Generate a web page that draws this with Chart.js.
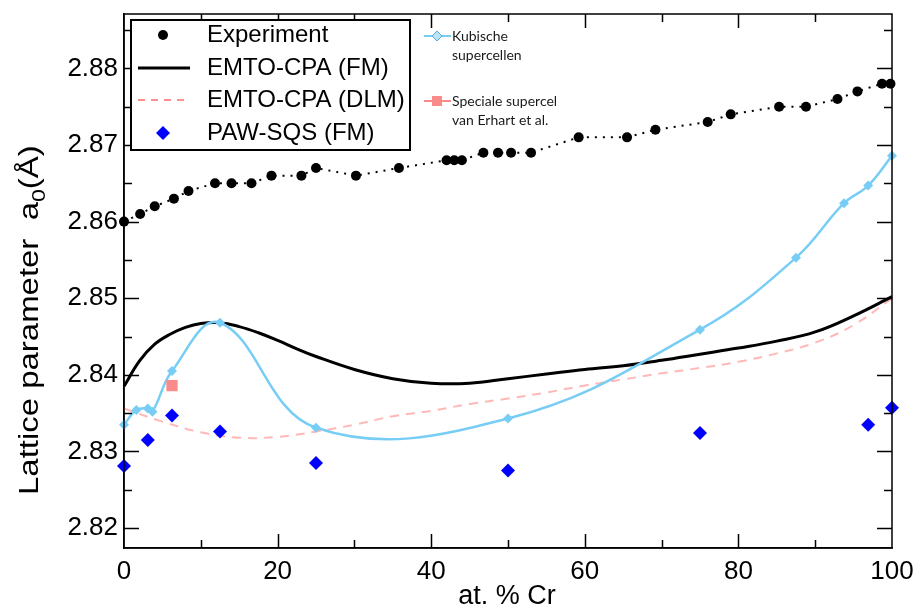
<!DOCTYPE html>
<html>
<head>
<meta charset="utf-8">
<script src="https://cdn.jsdelivr.net/npm/chart.js@4.4.1/dist/chart.umd.min.js"></script>
<style>
  html, body { margin: 0; padding: 0; background: #fff; }
</style>
</head>
<body>
<canvas id="myChart" width="914" height="611"></canvas>
<script>
// experiment (black dots)
var expX = [0, 2.1, 4.0, 6.5, 8.4, 11.85, 14, 16.6, 19.2, 23.1, 25, 30.2, 35.8, 42, 43, 44, 46.8, 48.7, 50.4, 53, 59.2, 65.5, 69.2, 76, 79, 85.3, 88.8, 92.9, 95.5, 98.7, 99.8]
var expY = [2.860, 2.861, 2.862, 2.863, 2.864, 2.865, 2.865, 2.865, 2.866, 2.866, 2.867, 2.866, 2.867, 2.868, 2.868, 2.868, 2.869, 2.869, 2.869, 2.869, 2.871, 2.871, 2.872, 2.873, 2.874, 2.875, 2.875, 2.876, 2.877, 2.878, 2.878]

// EMTO-CPA (FM) curve
var fmX = [0, 2, 4, 6, 8, 10, 12.5, 15, 17.5, 20, 22.5, 25, 30, 35, 40, 45, 50, 55, 60, 65, 70, 75, 80, 85, 90, 95, 100]
var fmY = [2.8385, 2.8418, 2.8440, 2.8453, 2.8462, 2.8467, 2.8468, 2.8463, 2.8455, 2.8445, 2.8434, 2.8424, 2.8407, 2.8395, 2.8389, 2.8389, 2.8395, 2.8401, 2.8407, 2.8412, 2.8419, 2.8427, 2.8435, 2.8444, 2.8456, 2.8477, 2.8502]

// EMTO-CPA (DLM) curve
var dlmX = [0, 5, 10, 15, 20, 25, 30, 35, 40, 45, 50, 55, 60, 65, 70, 75, 80, 85, 90, 95, 100]
var dlmY = [2.8356, 2.8339, 2.8325, 2.8318, 2.8319, 2.8326, 2.8335, 2.8346, 2.8353, 2.8362, 2.8369, 2.8377, 2.8386, 2.8394, 2.8402, 2.8409, 2.8417, 2.8428, 2.8442, 2.8465, 2.8500]

// PAW-SQS (FM)
var pawX = [0, 3.1, 6.25, 12.5, 25, 50, 75, 96.9, 100]
var pawY = [2.8281, 2.8315, 2.8347, 2.8326, 2.8285, 2.8275, 2.8324, 2.8335, 2.8357]

// Kubische supercellen
var kubX = [0, 1.6, 3.1, 3.7, 6.25, 12.5, 25, 50, 75, 87.5, 93.75, 96.9, 100]
var kubY = [2.8335, 2.8354, 2.8356, 2.8352, 2.8405, 2.8468, 2.8331, 2.8343, 2.8459, 2.8553, 2.8624, 2.8647, 2.8686]

// Speciale supercel van Erhart et al.
var erhX = [6.25]
var erhY = [2.8386]

var xLabels = [0, 20, 40, 60, 80, 100]
var yLabels = [2.82, 2.83, 2.84, 2.85, 2.86, 2.87, 2.88]
var xMarks = [10, 20, 30, 40, 50, 60, 70, 80, 90]
var yMarks = [2.82, 2.825, 2.83, 2.835, 2.84, 2.845, 2.85, 2.855, 2.86, 2.865, 2.87, 2.875, 2.88, 2.885]

var blue = '#78cdf5'
var tickFont = { family: "'Liberation Sans', Arial, sans-serif", size: 26 }

function pts(xs, ys) {
      return xs.map(function (x, i) { return { x: x, y: ys[i] } })
}

// inner tick marks and box around the plot
var frame = {
      id: 'frame',
      afterDatasetsDraw: function (chart) {
            var ctx = chart.ctx, a = chart.chartArea
            var xs = chart.scales.x, ys = chart.scales.y
            ctx.save()
            ctx.strokeStyle = '#000'
            ctx.lineWidth = 1.5
            ctx.strokeRect(a.left, a.top, a.right - a.left, a.bottom - a.top)
            ctx.beginPath()
            xMarks.forEach(function (v) {
                  var p = Math.round(xs.getPixelForValue(v)) + 0.5
                  var len = v % 20 == 0 ? 14 : 8
                  ctx.moveTo(p, a.bottom); ctx.lineTo(p, a.bottom - len)
                  ctx.moveTo(p, a.top); ctx.lineTo(p, a.top + len)
            })
            yMarks.forEach(function (v) {
                  var p = Math.round(ys.getPixelForValue(v)) + 0.5
                  var len = Math.round(v * 1000) % 10 == 0 ? 15 : 8
                  ctx.moveTo(a.left, p); ctx.lineTo(a.left + len, p)
                  ctx.moveTo(a.right, p); ctx.lineTo(a.right - len, p)
            })
            ctx.stroke()
            ctx.restore()
      },
      afterDraw: function (chart) {
            var ctx = chart.ctx
            var ds = chart.data.datasets
            ctx.save()

            // y-axis title (stretched along the text like the original)
            ctx.fillStyle = '#000'
            ctx.translate(38, 495)
            ctx.rotate(-Math.PI / 2)
            ctx.scale(1.22, 1)
            ctx.textBaseline = 'alphabetic'
            ctx.textAlign = 'left'
            ctx.font = "27px 'Liberation Sans', Arial, sans-serif"
            var t1 = 'Lattice parameter  a'
            ctx.fillText(t1, 0, 0)
            var w1 = ctx.measureText(t1).width
            ctx.font = "19px 'Liberation Sans', Arial, sans-serif"
            ctx.fillText('0', w1, 7)
            var w2 = ctx.measureText('0').width
            ctx.font = "27px 'Liberation Sans', Arial, sans-serif"
            ctx.fillText('(Å)', w1 + w2, 0)
            ctx.setTransform(1, 0, 0, 1, 0, 0)

            // x-axis title
            ctx.font = "27px 'Liberation Sans', Arial, sans-serif"
            ctx.textAlign = 'center'
            ctx.textBaseline = 'middle'
            ctx.fillText('at. % Cr', 507, 597)

            // main legend box
            ctx.fillStyle = '#fff'
            ctx.fillRect(131, 20, 279, 130)
            ctx.strokeStyle = '#000'
            ctx.lineWidth = 2
            ctx.strokeRect(131, 20, 279, 130)
            var rows = [35, 68, 100, 133]
            ctx.font = "24px 'Liberation Sans', Arial, sans-serif"
            ctx.textAlign = 'left'
            ctx.textBaseline = 'middle'
            for (var i = 0; i < 4; i++) {
                  ctx.fillStyle = '#000'
                  ctx.fillText(ds[i].label, 207, rows[i])
            }
            // symbols
            ctx.beginPath(); ctx.arc(163, 35, 5, 0, Math.PI * 2); ctx.fillStyle = '#000'; ctx.fill()
            ctx.beginPath(); ctx.moveTo(138, 68); ctx.lineTo(190, 68); ctx.lineWidth = 3; ctx.strokeStyle = '#000'; ctx.stroke()
            ctx.beginPath(); ctx.setLineDash([7, 6]); ctx.moveTo(138, 100); ctx.lineTo(190, 100); ctx.lineWidth = 1.2; ctx.strokeStyle = '#ff2020'; ctx.stroke()
            ctx.setLineDash([])
            ctx.beginPath(); ctx.moveTo(163, 126); ctx.lineTo(170, 133); ctx.lineTo(163, 140); ctx.lineTo(156, 133); ctx.closePath(); ctx.fillStyle = '#0000ff'; ctx.fill()

            // second legend
            ctx.font = "14px Lato, 'Open Sans', sans-serif"
            ctx.fillStyle = '#1a1a1a'
            ctx.fillText('Kubische', 452, 36)
            ctx.fillText('supercellen', 452, 55)
            ctx.fillText('Speciale supercel', 452, 101)
            ctx.fillText('van Erhart et al.', 452, 120)
            ctx.lineWidth = 2
            ctx.strokeStyle = blue
            ctx.beginPath(); ctx.moveTo(424, 36); ctx.lineTo(451, 36); ctx.stroke()
            ctx.beginPath(); ctx.moveTo(437, 31); ctx.lineTo(442, 36); ctx.lineTo(437, 41); ctx.lineTo(432, 36); ctx.closePath()
            ctx.fillStyle = '#b8e4f8'; ctx.fill(); ctx.strokeStyle = '#5aa8d8'; ctx.lineWidth = 1; ctx.stroke()
            ctx.strokeStyle = '#f98b8b'; ctx.lineWidth = 2
            ctx.beginPath(); ctx.moveTo(424, 101); ctx.lineTo(451, 101); ctx.stroke()
            ctx.fillStyle = '#f98b8b'; ctx.fillRect(432, 96, 10, 10)

            ctx.restore()
      }
}

var ctx = document.getElementById('myChart')
var myChart = new Chart(ctx, {
      type: 'scatter',
      data: {
            datasets: [{
                  label: 'Experiment',
                  data: pts(expX, expY),
                  showLine: true,
                  borderColor: '#000',
                  borderWidth: 2,
                  borderDash: [2, 6],
                  backgroundColor: '#000',
                  pointRadius: 5,
                  pointBorderWidth: 0,
                  clip: false,
                  order: 1
            },
            {
                  label: 'EMTO-CPA (FM)',
                  data: pts(fmX, fmY),
                  showLine: true,
                  borderColor: '#000',
                  borderWidth: 3,
                  pointRadius: 0,
                  tension: 0.4,
                  clip: false,
                  order: 4
            },
            {
                  label: 'EMTO-CPA (DLM)',
                  data: pts(dlmX, dlmY),
                  showLine: true,
                  borderColor: '#ffb8b8',
                  borderWidth: 2,
                  borderDash: [9, 7],
                  pointRadius: 0,
                  tension: 0.4,
                  clip: false,
                  order: 5
            },
            {
                  label: 'PAW-SQS (FM)',
                  data: pts(pawX, pawY),
                  backgroundColor: '#0000ff',
                  pointStyle: 'rectRot',
                  pointRadius: 7,
                  pointBorderWidth: 0,
                  clip: false,
                  order: 0
            },
            {
                  label: 'Kubische supercellen',
                  data: pts(kubX, kubY),
                  showLine: true,
                  borderColor: blue,
                  backgroundColor: blue,
                  borderWidth: 2.5,
                  pointStyle: 'rectRot',
                  pointRadius: 5,
                  pointBorderWidth: 0,
                  tension: 0.4,
                  clip: false,
                  order: 3
            },
            {
                  label: 'Speciale supercel van Erhart et al.',
                  data: pts(erhX, erhY),
                  backgroundColor: '#f98b8b',
                  pointStyle: 'rect',
                  pointRadius: 8,
                  pointBorderWidth: 0,
                  clip: false,
                  order: 2
            }]
      },
      options: {
            animation: false,
            responsive: false,
            devicePixelRatio: 1,
            layout: { padding: { top: 14, right: 22, left: 0, bottom: 0 } },
            plugins: {
                  legend: { display: false },
                  tooltip: { enabled: false }
            },
            scales: {
                  x: {
                        type: 'linear',
                        min: 0,
                        max: 100,
                        afterBuildTicks: function (s) { s.ticks = xLabels.map(function (v) { return { value: v } }) },
                        afterFit: function (s) { s.height = 63; s.paddingLeft = 0; s.paddingRight = 0 },
                        grid: { display: false, drawTicks: false },
                        border: { display: true, color: '#000', width: 1.5 },
                        ticks: { font: tickFont, color: '#000', padding: 8, maxRotation: 0 }
                  },
                  y: {
                        type: 'linear',
                        min: 2.8174,
                        max: 2.8871,
                        afterBuildTicks: function (s) { s.ticks = yLabels.map(function (v) { return { value: v } }) },
                        afterFit: function (s) { s.width = 124; s.paddingTop = 0; s.paddingBottom = 0 },
                        grid: { display: false, drawTicks: false },
                        border: { display: true, color: '#000', width: 1.5 },
                        ticks: {
                              font: tickFont, color: '#000', padding: 6,
                              callback: function (v) { return v.toFixed(2) }
                        }
                  }
            }
      },
      plugins: [frame]
})
</script>
</body>
</html>
